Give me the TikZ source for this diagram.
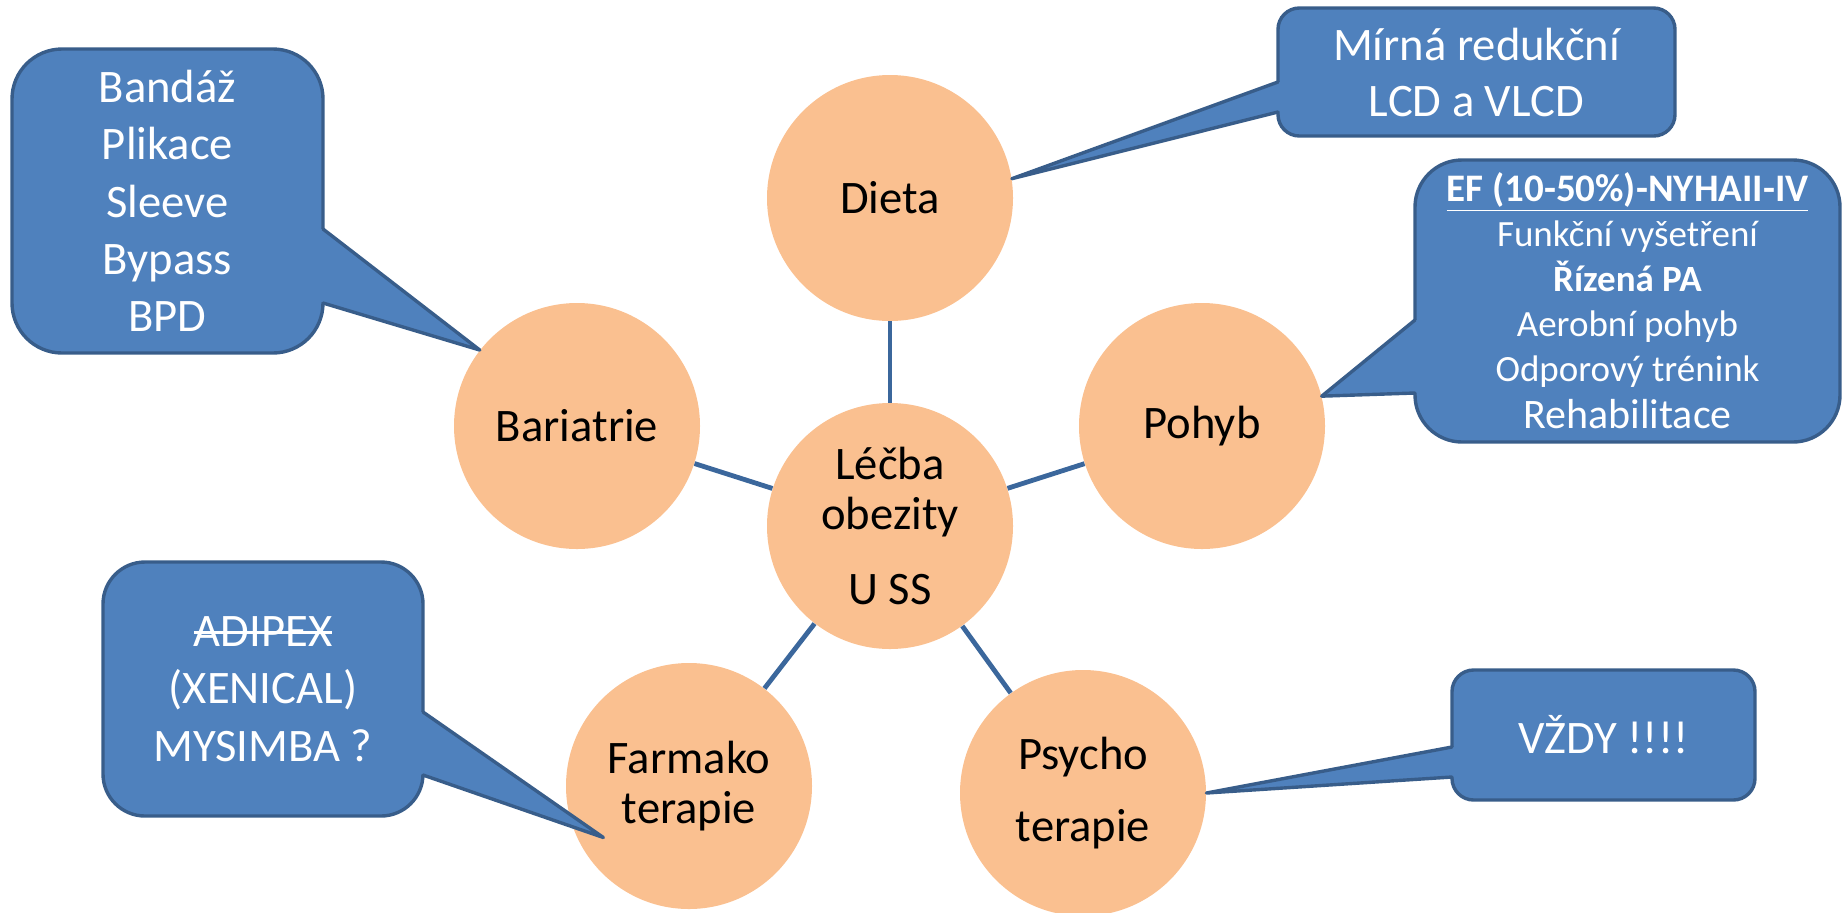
\documentclass[tikz,border=0pt]{standalone}
\usepackage{fontspec}
\setmainfont{Carlito}
\usepackage{tikz}
\usetikzlibrary{calc}
\definecolor{peach}{HTML}{FAC090}
\definecolor{calloutblue}{HTML}{4F81BD}
\definecolor{calloutedge}{HTML}{385D8A}
\definecolor{spokeblue}{HTML}{3B679C}
\newsavebox{\strikebox}
\newcommand{\strikeout}[1]{\sbox{\strikebox}{#1}\rlap{\usebox{\strikebox}}\rule[0.26em]{\wd\strikebox}{0.06em}}

\begin{document}
\begin{tikzpicture}
[
  x=0.5pt, y=-0.5pt,
  topic/.style={circle, fill=peach, minimum size=123pt, inner sep=0pt, align=center, font=\fontsize{23.3pt}{25pt}\selectfont},
  bubble/.style n args={3}{fill=calloutblue, draw=calloutedge, line width=1.7pt, rounded corners=#3, minimum width=#1, minimum height=#2, inner sep=0pt, outer sep=0pt, text=white, align=center, font=\fontsize{23.3pt}{28.7pt}\selectfont},
  spoke/.style={draw=spokeblue, line width=2.4pt},
  wedge line/.style={draw=calloutedge, line width=1.7pt, line join=round, line cap=round}
]
\useasboundingbox (0,0) rectangle (1843,912);

% circles
\node (lecba) [topic] at (890,526) {Léčba\\obezity\\[12.5pt]U SS};
\node (dieta) [topic] at (890,198) {Dieta};
\node (bar) [topic] at (577,426) {Bariatrie};
\node (pohyb) [topic] at (1202,426) {Pohyb};
\node (farm) [topic] at (689,786) {Farmako\\terapie};
\node (psy) [topic] at (1083,793) {Psycho\\[11pt]terapie};

\foreach \n in {dieta,bar,pohyb,farm,psy}
  \draw [spoke] (lecba) -- (\n);

% callouts
\node (barbox) [bubble={155.5pt}{152pt}{25pt}] at (167.5,201) {Bandáž\\Plikace\\Sleeve\\Bypass\\BPD};
\node (dietabox) [bubble={198.5pt}{64pt}{10.7pt}, font=\fontsize{23.3pt}{28pt}\selectfont] at (1476.5,72) {Mírná redukční\\LCD a VLCD};
\node (pohybbox) [bubble={212.5pt}{141pt}{23.5pt}, font=\fontsize{18.5pt}{22.5pt}\selectfont] at (1627.5,301)
  {{\fontsize{19.5pt}{22.5pt}\selectfont\bfseries\underline{EF (10-50\%)-NYHAII-IV}}\\Funkční vyšetření\\{\bfseries Řízená PA}\\Aerobní pohyb\\Odporový trénink\\[1pt]{\fontsize{21pt}{22.5pt}\selectfont Rehabilitace}};
\node (farmbox) [bubble={160pt}{127pt}{21pt}] at (263,689) {\strikeout{ADIPEX}\\(XENICAL)\\MYSIMBA ?};
\node (psybox) [bubble={151.5pt}{65pt}{10.8pt}] at (1603.5,735) {VŽDY !!!!};

\coordinate (farm tip) at ($(farm.center)!0.81!(farm.211)$);
\foreach \cb/\side/\ya/\yb/\tip in {barbox/east/-14pt/-51pt/bar.142, dietabox/west/-5pt/-20pt/dieta.9, pohybbox/west/-9.5pt/-46pt/pohyb.14, farmbox/east/-11.5pt/-43pt/farm tip, psybox/west/-6pt/-21pt/psy.east}
{
  \fill [calloutblue] ($([yshift=\ya]\cb.\side)!3pt!([yshift=\ya]\cb.center)$) -- ([yshift=\ya]\cb.\side) -- (\tip) -- ([yshift=\yb]\cb.\side) -- ($([yshift=\yb]\cb.\side)!3pt!([yshift=\yb]\cb.center)$) -- cycle;
  \draw [wedge line] ([yshift=\ya]\cb.\side) -- (\tip) -- ([yshift=\yb]\cb.\side);
}
\end{tikzpicture}
\end{document}
